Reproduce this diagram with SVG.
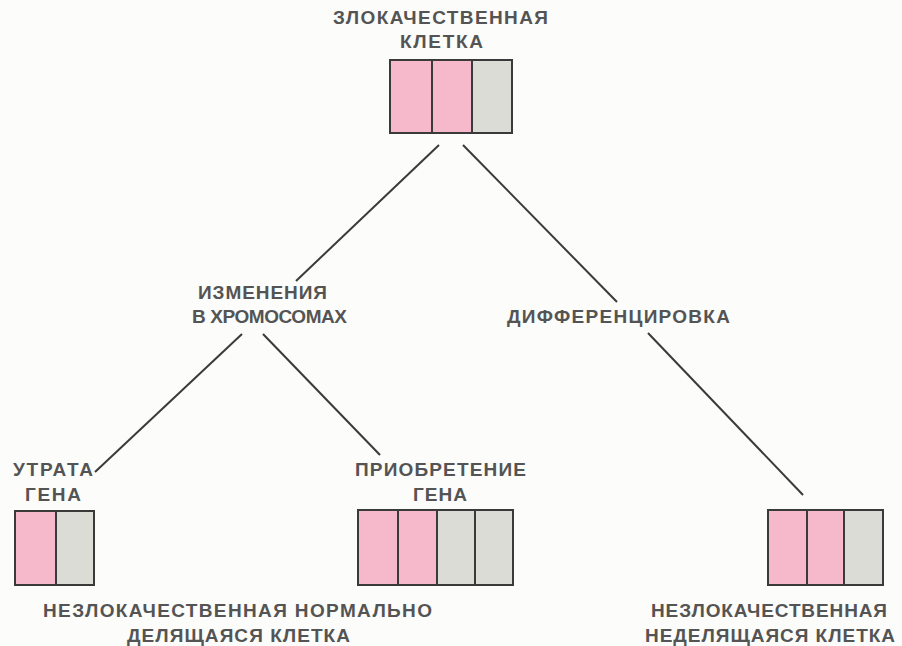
<svg xmlns="http://www.w3.org/2000/svg" width="902" height="646" viewBox="0 0 902 646">
<style>
.t{font-family:"Liberation Sans",Arial,sans-serif;font-weight:bold;font-size:19px;fill:#545454;text-anchor:middle}
.c{stroke:#3a3a3a;stroke-width:2;fill:none}
.p{fill:#f5b9cb}
.g{fill:#dcdcd7}
.b{fill:none;stroke:#3a3a3a;stroke-width:2}
</style>
<rect width="902" height="646" fill="#fcfcfa"/>
<g id="connectors">
<line class="c" x1="439" y1="145" x2="296" y2="281"/>
<line class="c" x1="242" y1="334" x2="95" y2="472"/>
<line class="c" x1="263" y1="334" x2="380" y2="455"/>
<line class="c" x1="463" y1="145" x2="617" y2="302"/>
<line class="c" x1="648" y1="333" x2="803" y2="495"/>
</g>
<g id="malignant">
<text class="t" x="440.5" y="24" textLength="215" lengthAdjust="spacing">ЗЛОКАЧЕСТВЕННАЯ</text>
<text class="t" x="441.5" y="48" textLength="83" lengthAdjust="spacing">КЛЕТКА</text>
<rect class="p" x="390" y="60" width="42" height="73"/>
<rect class="p" x="432" y="60" width="40" height="73"/>
<rect class="g" x="472" y="60" width="40" height="73"/>
<rect class="b" x="390" y="60" width="122" height="73"/>
<line class="b" x1="432" y1="60" x2="432" y2="133"/>
<line class="b" x1="472" y1="60" x2="472" y2="133"/>
</g>
<g id="chromosome-changes">
<text class="t" x="262.5" y="299" textLength="129" lengthAdjust="spacing">ИЗМЕНЕНИЯ</text>
<text class="t" x="269.5" y="323" textLength="155" lengthAdjust="spacing">В ХРОМОСОМАХ</text>
</g>
<g id="differentiation">
<text class="t" x="618.5" y="323" textLength="223" lengthAdjust="spacing">ДИФФЕРЕНЦИРОВКА</text>
</g>
<g id="gene-loss">
<text class="t" x="53" y="476" textLength="80" lengthAdjust="spacing">УТРАТА</text>
<text class="t" x="53" y="501" textLength="56" lengthAdjust="spacing">ГЕНА</text>
<rect class="p" x="15" y="511" width="41" height="74"/>
<rect class="g" x="56" y="511" width="38" height="74"/>
<rect class="b" x="15" y="511" width="79" height="74"/>
<line class="b" x1="56" y1="511" x2="56" y2="585"/>
</g>
<g id="gene-gain">
<text class="t" x="440.5" y="476" textLength="171" lengthAdjust="spacing">ПРИОБРЕТЕНИЕ</text>
<text class="t" x="440" y="501" textLength="54" lengthAdjust="spacing">ГЕНА</text>
<rect class="p" x="358" y="510" width="40" height="75"/>
<rect class="p" x="398" y="510" width="39" height="75"/>
<rect class="g" x="437" y="510" width="38" height="75"/>
<rect class="g" x="475" y="510" width="38" height="75"/>
<rect class="b" x="358" y="510" width="155" height="75"/>
<line class="b" x1="398" y1="510" x2="398" y2="585"/>
<line class="b" x1="437" y1="510" x2="437" y2="585"/>
<line class="b" x1="475" y1="510" x2="475" y2="585"/>
</g>
<g id="benign-dividing">
<text class="t" x="237.5" y="617" textLength="389" lengthAdjust="spacing">НЕЗЛОКАЧЕСТВЕННАЯ НОРМАЛЬНО</text>
<text class="t" x="238.5" y="642" textLength="223" lengthAdjust="spacing">ДЕЛЯЩАЯСЯ КЛЕТКА</text>
</g>
<g id="benign-nondividing">
<rect class="p" x="768" y="510" width="39" height="75"/>
<rect class="p" x="807" y="510" width="37" height="75"/>
<rect class="g" x="844" y="510" width="39" height="75"/>
<rect class="b" x="768" y="510" width="115" height="75"/>
<line class="b" x1="807" y1="510" x2="807" y2="585"/>
<line class="b" x1="844" y1="510" x2="844" y2="585"/>
<text class="t" x="769" y="617" textLength="236" lengthAdjust="spacing">НЕЗЛОКАЧЕСТВЕННАЯ</text>
<text class="t" x="770" y="642" textLength="250" lengthAdjust="spacing">НЕДЕЛЯЩАЯСЯ КЛЕТКА</text>
</g>
</svg>
